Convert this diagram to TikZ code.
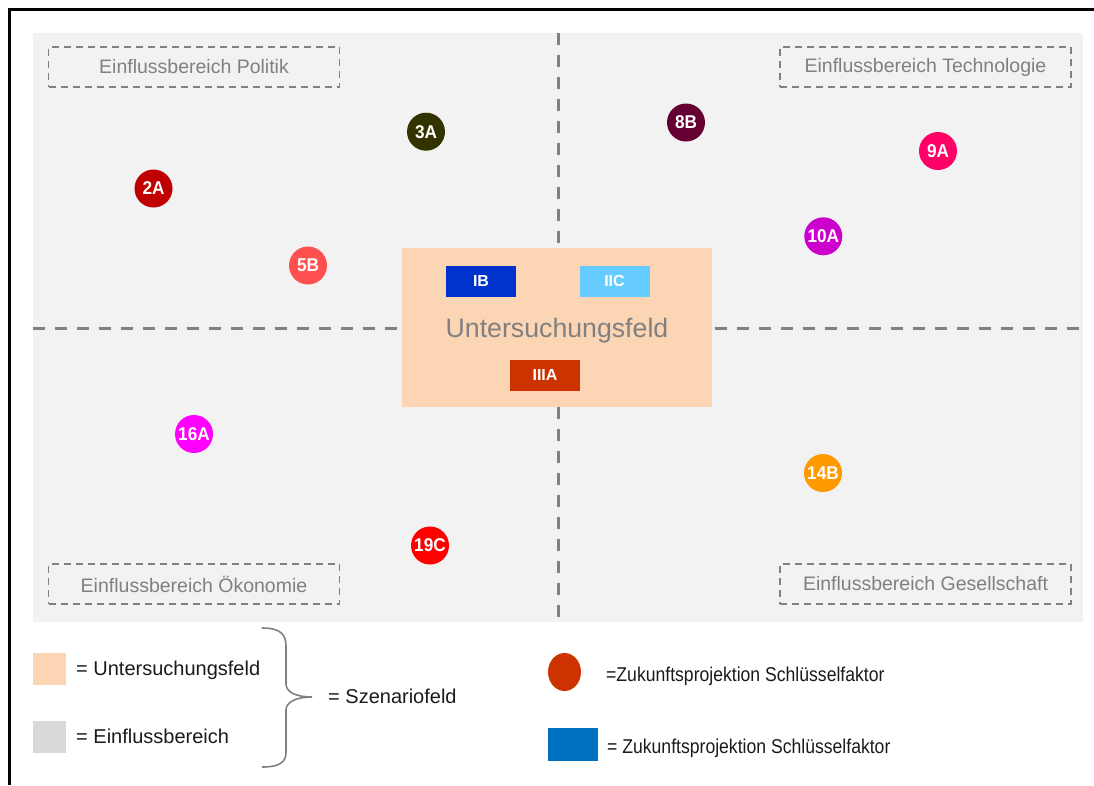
\documentclass[tikz,border=0pt]{standalone}
\usepackage{fontspec}
\setmainfont{Liberation Sans}
\usetikzlibrary{positioning}

\definecolor{fieldgray}{HTML}{F2F2F2}
\definecolor{linegray}{HTML}{808080}
\definecolor{peach}{HTML}{FCD5B5}
\definecolor{legendgray}{HTML}{D9D9D9}
\definecolor{cIB}{HTML}{0033CC}
\definecolor{cIIC}{HTML}{66CCFF}
\definecolor{cIIIA}{HTML}{CC3300}
\definecolor{cLegRect}{HTML}{0070C0}
\definecolor{cThreeA}{HTML}{333300}
\definecolor{cTwoA}{HTML}{C00000}
\definecolor{cFiveB}{HTML}{FF5050}
\definecolor{cEightB}{HTML}{660033}
\definecolor{cNineA}{HTML}{FF0066}
\definecolor{cTenA}{HTML}{CC00CC}
\definecolor{cSixteenA}{HTML}{FF00FF}
\definecolor{cFourteenB}{HTML}{FF9900}
\definecolor{cNineteenC}{HTML}{FF0000}
\definecolor{legendtext}{HTML}{1A1A1A}

\newcommand{\narrowtext}[1]{\scalebox{0.93}[1]{#1}}

\tikzset{
  factor/.style={circle, minimum size=38pt, inner sep=0pt, text=white,
    font=\fontsize{18.5}{19}\selectfont\bfseries},
  projbox/.style={rectangle, minimum width=70pt, minimum height=31pt, inner sep=0pt,
    text=white, font=\fontsize{16}{17}\selectfont\bfseries},
  arealabel/.style={draw=linegray, line width=1.8pt, dash pattern=on 7pt off 5pt,
    minimum width=291pt, minimum height=40pt, inner sep=0pt, text=linegray,
    font=\fontsize{19.5}{20}\selectfont},
  axisline/.style={draw=linegray, line width=3pt, dash pattern=on 12pt off 10pt},
  legendtxt/.style={anchor=base west, inner sep=0pt, text=legendtext,
    font=\fontsize{20}{21}\selectfont},
}

\begin{document}
\begin{tikzpicture}[x=1pt, y=-1pt]
\useasboundingbox (0,0) rectangle (1094,785);

% outer frame (top and left edges)
\draw[line width=3pt, black] (9,785) -- (9,9) -- (1094,9);

% scenario field background
\fill[fieldgray] (33,33) rectangle (1083,622);

% quadrant axes
\coordinate (vtop) at (558,33);
\coordinate (vbot) at (558,622);
\coordinate (hleft) at (33,328);
\coordinate (hright) at (1083,328);
\draw[axisline] (vtop) -- (vbot);
\draw[axisline] (hleft) -- (hright);

% field of investigation
\fill[peach] (402,248) rectangle (712,407);
\node[anchor=base, text=linegray, font=\fontsize{26.7}{28}\selectfont, inner sep=0pt] (ufeld) at (557,337) {Untersuchungsfeld};
\node[projbox, fill=cIB] (IB) at (481,281) {IB};
\node[projbox, fill=cIIC] (IIC) at (614.5,281) {IIC};
\node[projbox, fill=cIIIA] (IIIA) at (545,375) {IIIA};

% areas of influence
\node[arealabel] (politik) at (194,67) {Einflussbereich Politik};
\node[arealabel] (technologie) at (925.5,67) {Einflussbereich Technologie};
\node[arealabel] (oekonomie) at (194,584) {Einflussbereich Ökonomie};
\node[arealabel] (gesellschaft) at (925.5,584) {Einflussbereich Gesellschaft};

% key factor projections
\node[factor, fill=cTwoA] (f2A) at (153.5,188.5) {\narrowtext{2A}};
\node[factor, fill=cThreeA] (f3A) at (426,131.7) {\narrowtext{3A}};
\node[factor, fill=cFiveB] (f5B) at (308,265.5) {\narrowtext{5B}};
\node[factor, fill=cEightB] (f8B) at (686,122.5) {\narrowtext{8B}};
\node[factor, fill=cNineA] (f9A) at (938,151) {\narrowtext{9A}};
\node[factor, fill=cTenA] (f10A) at (823.3,236.3) {\narrowtext{10A}};
\node[factor, fill=cSixteenA] (f16A) at (194,434) {\narrowtext{16A}};
\node[factor, fill=cFourteenB] (f14B) at (823,473) {\narrowtext{14B}};
\node[factor, fill=cNineteenC] (f19C) at (430,545.5) {\narrowtext{19C}};

% legend, left part
\fill[peach] (33,653) rectangle (66,685);
\node[legendtxt] (lgU) at (76,675) {= Untersuchungsfeld};
\fill[legendgray] (33,721) rectangle (66,753);
\node[legendtxt] (lgE) at (76,743) {= Einflussbereich};
\draw[linegray, line width=1.6pt]
  (262,628) .. controls (280,628) and (286,634) .. (286,646)
  -- (286,684) .. controls (286,692) and (296,697) .. (312,697)
  .. controls (296,697) and (286,702) .. (286,710)
  -- (286,752) .. controls (286,762) and (280,767) .. (262,767);
\node[legendtxt] (lgS) at (328,703) {= Szenariofeld};

% legend, right part
\fill[cIIIA] (564.5,672) ellipse [x radius=16.5, y radius=19];
\node[legendtxt] (lgC) at (606,681) {\scalebox{0.88}[1]{=Zukunftsprojektion Schlüsselfaktor}};
\fill[cLegRect] (548,728) rectangle (598,761);
\node[legendtxt] (lgR) at (607,753) {\scalebox{0.88}[1]{= Zukunftsprojektion Schlüsselfaktor}};
\end{tikzpicture}
\end{document}
